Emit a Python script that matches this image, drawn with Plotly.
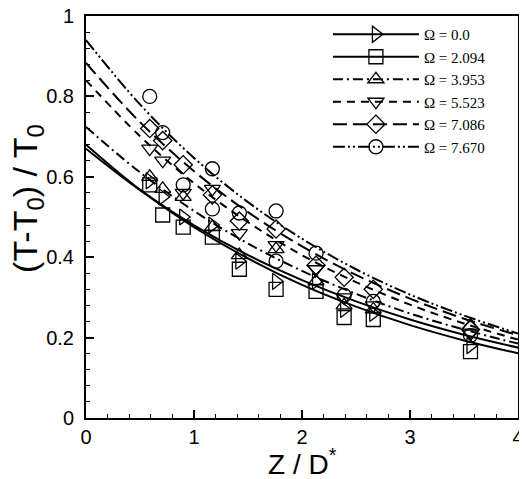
import plotly.graph_objects as go

# ---- data ----
omegas = ["0.0", "2.094", "3.953", "5.523", "7.086", "7.670"]
symbols = ["triangle-right-open", "square-open", "triangle-up-open",
           "triangle-down-open", "diamond-open", "circle-open"]
dashes = ["solid", "solid", "10px,4px,2px,4px", "8px,6px", "14px,6px",
          "12px,3px,2px,3px,2px,3px"]

# measured points (Z/D*, (T-T0)/T0)
x_w0 = [0.59, 0.71, 0.90, 1.17, 1.42, 1.76, 2.13, 2.39, 2.66, 3.56]
y_w0 = [0.59, 0.55, 0.50, 0.48, 0.39, 0.34, 0.34, 0.27, 0.26, 0.18]
x_w1 = [0.59, 0.71, 0.90, 1.17, 1.42, 1.76, 2.13, 2.39, 2.66, 3.56]
y_w1 = [0.58, 0.505, 0.475, 0.45, 0.37, 0.32, 0.315, 0.25, 0.245, 0.165]
x_w2 = [0.59, 0.71, 0.90, 1.17, 1.42, 1.76, 2.13, 2.39, 2.66, 3.56]
y_w2 = [0.60, 0.57, 0.55, 0.475, 0.405, 0.42, 0.34, 0.28, 0.27, 0.23]
x_w3 = [0.59, 0.71, 0.90, 1.17, 1.42, 1.76, 2.13, 2.39, 2.66, 3.56]
y_w3 = [0.67, 0.64, 0.56, 0.57, 0.46, 0.43, 0.37, 0.30, 0.28, 0.21]
x_w4 = [0.59, 0.71, 0.90, 1.17, 1.42, 1.76, 2.13, 2.39, 2.66, 3.56]
y_w4 = [0.72, 0.69, 0.63, 0.555, 0.49, 0.47, 0.38, 0.35, 0.32, 0.22]
x_w5 = [0.59, 0.71, 0.90, 1.17, 1.17, 1.42, 1.76, 1.76, 2.13, 2.39, 2.66, 3.56]
y_w5 = [0.80, 0.71, 0.58, 0.62, 0.52, 0.51, 0.515, 0.39, 0.41, 0.305, 0.29, 0.205]

# fitted curves read at regular Z/D*
z_fit = [0.0, 0.5, 1.0, 1.5, 2.0, 2.5, 3.0, 3.5, 4.0]
f_w0 = [0.680, 0.568, 0.475, 0.397, 0.331, 0.277, 0.231, 0.193, 0.161]
f_w1 = [0.670, 0.567, 0.479, 0.405, 0.343, 0.290, 0.245, 0.207, 0.175]
f_w2 = [0.724, 0.611, 0.515, 0.434, 0.366, 0.309, 0.260, 0.220, 0.185]
f_w3 = [0.840, 0.701, 0.584, 0.487, 0.405, 0.338, 0.282, 0.235, 0.195]
f_w4 = [0.883, 0.736, 0.614, 0.512, 0.427, 0.356, 0.297, 0.247, 0.206]
f_w5 = [0.940, 0.780, 0.647, 0.537, 0.446, 0.370, 0.307, 0.255, 0.210]

x_title = "Z / D<sup>*</sup>"
y_title = "(T-T<sub>0</sub>) / T<sub>0</sub>"

xs = [x_w0, x_w1, x_w2, x_w3, x_w4, x_w5]
ys = [y_w0, y_w1, y_w2, y_w3, y_w4, y_w5]
fits = [f_w0, f_w1, f_w2, f_w3, f_w4, f_w5]

fig = go.Figure()
for i in range(6):
    fig.add_trace(go.Scatter(x=z_fit, y=fits[i], mode="lines", line_shape="spline",
                             line=dict(color="black", width=2, dash=dashes[i]),
                             showlegend=False, hoverinfo="skip"))
for i in range(6):
    fig.add_trace(go.Scatter(x=xs[i], y=ys[i], mode="markers",
                             marker=dict(symbol=symbols[i], size=14, color="black",
                                         line=dict(width=1.3, color="black")),
                             showlegend=False))
for i in range(6):
    fig.add_trace(go.Scatter(x=[None], y=[None], mode="lines+markers",
                             name="\u03a9 = " + omegas[i],
                             line=dict(color="black", width=2, dash=dashes[i]),
                             marker=dict(symbol=symbols[i], size=14, color="black",
                                         line=dict(width=1.3, color="black"))))

axis_common = dict(showline=True, linecolor="black", linewidth=2, mirror=True,
                   ticks="inside", ticklen=8, tickwidth=2, tickcolor="black",
                   showgrid=False, zeroline=False, automargin=False,
                   ticklabeloverflow="allow",
                   tickfont=dict(family="Liberation Sans, Arial", size=20, color="black"))

# the page body adds an 8px offset, so the figure is drawn 8px smaller
fig.update_layout(
    width=519, height=471,
    margin=dict(l=78, r=9, t=8, b=61),
    paper_bgcolor="white", plot_bgcolor="white",
    xaxis=dict(range=[0, 4], dtick=1, tick0=0, ticklabelstandoff=0,
               minor=dict(dtick=0.2, ticks="inside", ticklen=4, tickcolor="black", tickwidth=1),
               **axis_common),
    yaxis=dict(range=[0, 1], dtick=0.2, tick0=0, ticklabelstandoff=6,
               minor=dict(dtick=0.04, ticks="inside", ticklen=4, tickcolor="black", tickwidth=1),
               **axis_common),
    legend=dict(x=0.560, y=0.995, xanchor="left", yanchor="top",
                bgcolor="rgba(0,0,0,0)", itemwidth=86, tracegroupgap=0,
                font=dict(family="Liberation Serif, Times New Roman", size=15, color="black")),
    annotations=[
        dict(text=x_title, xref="paper", yref="paper", x=0.5, y=0, xanchor="center",
             yanchor="middle", yshift=-44, showarrow=False,
             font=dict(family="Liberation Sans, Arial", size=28, color="black")),
        dict(text=y_title, xref="paper", yref="paper", x=0, y=0.545, xanchor="center",
             yanchor="middle", xshift=-58, textangle=-90, showarrow=False,
             font=dict(family="Liberation Sans, Arial", size=34, color="black")),
    ],
)

fig.write_html("out.html")
